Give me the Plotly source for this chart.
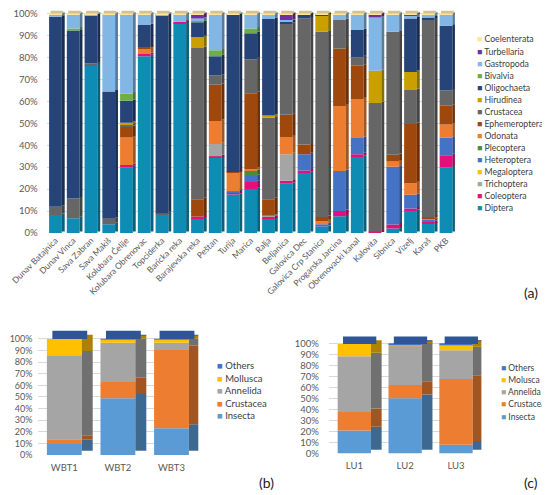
import plotly.graph_objects as go

# panel (a): relative abundance of taxa per station (%)
stations = ["Dunav Batajnica", "Dunav Vinca", "Sava Zabran", "Sava Makiš", "Kolubara Ćelije",
            "Kolubara Obrenovac", "Topciderka", "Baricka reka", "Barajevska reka", "Peštan",
            "Turija", "Marica", "Ralja", "Beljanica", "Galovica Dec", "Galovica Crp Stanica",
            "Progarska Jarcina", "Obrenovacki kanal", "Kalovita", "Sibnica", "Vizelj", "Karaš", "PKB"]

diptera = [8.2, 6.7, 76.5, 4.0, 30.0, 80.5, 8.2, 95.6, 6.7, 34.2, 17.5, 20.0, 6.4, 22.4, 27.3, 2.8, 7.6, 34.6, 0, 2.1, 10.0, 4.2, 29.9]
coleoptera = [0, 0, 0, 0, 1.0, 1.0, 0, 0.6, 0.8, 0.8, 1.0, 3.2, 0.9, 1.4, 1.2, 0, 2.4, 1.3, 0.7, 1.8, 1.2, 0.8, 5.5]
trichoptera = [0, 0, 0, 0, 0, 0, 0, 0, 0, 5.5, 0, 0, 0.7, 12.1, 0, 0, 0, 0, 0, 0, 0, 0, 0]
megaloptera = [0, 0, 0, 0, 0, 0, 0, 0, 0, 0, 0, 0, 0, 0, 0, 0, 0, 0, 0, 0, 0, 0, 0]
heteroptera = [0, 0, 0, 0, 0, 0, 0, 0, 0, 0, 0.5, 2.8, 0, 0, 7.4, 1.2, 18.3, 7.4, 0, 26.3, 6.2, 1.0, 8.0]
plecoptera = [0, 0, 0, 0, 0, 0, 0, 0, 0, 0, 0, 2.2, 0, 0, 0, 0, 0, 0, 0, 0, 0, 0, 0]
odonata = [0, 0, 0, 0, 12.5, 2.7, 0, 0, 0, 10.5, 8.4, 1.0, 0, 7.8, 0, 1.4, 29.5, 17.7, 0, 2.4, 5.3, 0.7, 6.0]
ephemeroptera = [0, 0, 0, 0, 4.8, 0.5, 0, 0, 7.9, 16.5, 0.4, 34.5, 7.4, 10.2, 4.4, 1.9, 26.3, 15.2, 0, 3.0, 27.0, 0.5, 8.6]
crustacea = [3.8, 9.0, 0.7, 2.5, 1.0, 0, 0.8, 0, 68.9, 4.2, 0, 15.5, 37.1, 41.3, 57.4, 84.4, 12.9, 3.9, 58.5, 56.1, 15.5, 89.8, 6.9]
hirudinea = [0, 0, 0, 0, 0.9, 0, 0, 0, 4.9, 0, 0, 0, 1.0, 0, 0, 7.5, 0, 0, 14.7, 0, 8.2, 0, 0]
oligochaeta = [86.5, 76.5, 22.0, 58.0, 10.0, 10.0, 90.2, 0, 6.8, 8.8, 71.7, 11.8, 44.0, 1.2, 2.0, 0.5, 0, 12.4, 0, 0, 24.3, 1.2, 29.5]
bivalvia = [0, 1.0, 0, 0, 3.4, 0, 0, 0, 1.0, 2.7, 0, 2.2, 0, 0, 0, 0, 0, 0, 0, 0, 0, 0, 0]
gastropoda = [1.2, 6.5, 0.5, 35.2, 36.1, 5.0, 0.5, 3.5, 0.7, 16.5, 0.2, 6.5, 2.2, 0.6, 0, 0, 2.7, 7.2, 24.3, 8.0, 1.6, 1.5, 5.3]
turbellaria = [0, 0, 0, 0, 0, 0, 0, 0, 2.0, 0, 0, 0, 0, 2.7, 0, 0, 0, 0, 1.5, 0, 0.4, 0, 0]
coelenterata = [0.3, 0.3, 0.3, 0.3, 0.3, 0.3, 0.3, 0.3, 0.3, 0.3, 0.3, 0.3, 0.3, 0.3, 0.3, 0.3, 0.3, 0.3, 0.3, 0.3, 0.3, 0.3, 0.3]

taxa_a = [
    ("Diptera", diptera, "#0f8cb4"),
    ("Coleoptera", coleoptera, "#e2117a"),
    ("Trichoptera", trichoptera, "#a5a5a5"),
    ("Megaloptera", megaloptera, "#ffc000"),
    ("Heteroptera", heteroptera, "#4472c4"),
    ("Plecoptera", plecoptera, "#4a8c3a"),
    ("Odonata", odonata, "#ed7d31"),
    ("Ephemeroptera", ephemeroptera, "#9e480e"),
    ("Crustacea", crustacea, "#666666"),
    ("Hirudinea", hirudinea, "#c9a000"),
    ("Oligochaeta", oligochaeta, "#264478"),
    ("Bivalvia", bivalvia, "#70ad47"),
    ("Gastropoda", gastropoda, "#82b6e4"),
    ("Turbellaria", turbellaria, "#7030a0"),
    ("Coelenterata", coelenterata, "#ffe699"),
]

# panel (b)
sites_b = ["WBT1", "WBT2", "WBT3"]
insecta_b = [9.5, 49.0, 23.0]
crustacea_b = [4.0, 14.0, 67.5]
annelida_b = [72.5, 33.8, 6.3]
mollusca_b = [14.0, 2.7, 2.7]
others_b = [0, 0.5, 0.5]

# panel (c)
sites_c = ["LU1", "LU2", "LU3"]
insecta_c = [21.0, 50.5, 8.0]
crustacea_c = [16.8, 12.0, 60.0]
annelida_c = [50.9, 35.7, 26.2]
molusca_c = [11.3, 1.3, 5.3]
others_c = [0, 0.5, 0.5]

c_ins, c_cru, c_ann, c_mol, c_oth = "#5b9bd5", "#ed7d31", "#a5a5a5", "#ffc000", "#4472c4"
taxa_b = [("Insecta", insecta_b, c_ins), ("Crustacea", crustacea_b, c_cru),
          ("Annelida", annelida_b, c_ann), ("Mollusca", mollusca_b, c_mol), ("Others", others_b, c_oth)]
taxa_c = [("Insecta", insecta_c, c_ins), ("Crustacea", crustacea_c, c_cru),
          ("Annelida", annelida_c, c_ann), ("Molusca", molusca_c, c_mol), ("Others", others_c, c_oth)]


def darker(hexcol, f=0.68):
    h = hexcol.lstrip("#")
    r, g, b = (int(h[i:i + 2], 16) for i in (0, 2, 4))
    return "rgb(%d,%d,%d)" % (r * f, g * f, b * f)


def add_3d_stack(fig, cats, series, xa, ya, w, side, skew, topcol):
    base = [0.0] * len(cats)
    for name, vals, col in series:
        # front face
        fig.add_trace(go.Bar(x=cats, y=vals, base=base, width=w, marker=dict(color=col, line_width=0),
                             name=name, xaxis=xa, yaxis=ya, hoverinfo="x+y+name"))
        # side face (pseudo 3D)
        fig.add_trace(go.Bar(x=cats, y=vals, base=[b + skew / 2 for b in base], width=side, offset=w / 2,
                             marker=dict(color=darker(col), line_width=0), xaxis=xa, yaxis=ya,
                             hoverinfo="skip"))
        base = [b + v for b, v in zip(base, vals)]
    # top face
    fig.add_trace(go.Bar(x=cats, y=[skew] * len(cats), base=base, width=w, offset=-w / 2 + side / 2,
                         marker=dict(color=topcol, line_width=0), xaxis=xa, yaxis=ya, hoverinfo="skip"))


fig = go.Figure()
add_3d_stack(fig, stations, taxa_a, "x", "y", 0.72, 0.16, 1.3, "#d6c18f")
add_3d_stack(fig, sites_b, taxa_b, "x2", "y2", 0.65, 0.205, 7.2, "#2f5597")
add_3d_stack(fig, sites_c, taxa_c, "x3", "y3", 0.655, 0.21, 6.7, "#2f5597")

W, H = 550, 495
OFF = 8  # page margin of the browser


def px(x):
    return (x - OFF) / W


def py(y):
    return 1 - (y - OFF) / H


pct = [0, 10, 20, 30, 40, 50, 60, 70, 80, 90, 100]
ytick = dict(tickvals=pct, ticktext=["%d%%" % p for p in pct], gridcolor="#d9d9d9", gridwidth=1,
             zeroline=False, showline=False, ticks="", automargin=False, ticklabeloverflow="allow")
xtick = dict(showgrid=False, showline=False, ticks="", zeroline=False, automargin=False)

fig.update_layout(
    width=W, height=H, margin=dict(l=0, r=0, t=0, b=0),
    paper_bgcolor="white", plot_bgcolor="white", barmode="overlay", showlegend=False,
    font=dict(family="Lato", color="#595959"),
    xaxis=dict(domain=[px(46.6), px(454.9)], range=[-0.5, 22.5], tickangle=-45,
               tickfont=dict(size=8.5, color="#595959"), anchor="y", **xtick),
    yaxis=dict(domain=[py(233), 1], range=[0, 102.5], anchor="x", ticklabelstandoff=8,
               tickfont=dict(size=9.5, color="#595959"), **ytick),
    xaxis2=dict(domain=[px(37.5), px(198.3)], range=[-0.5, 2.5], anchor="y2", ticklabelstandoff=5,
                tickfont=dict(size=9.5, color="#595959"), **xtick),
    yaxis2=dict(domain=[py(455), py(329.7)], range=[0, 108], anchor="x2", ticklabelstandoff=4,
                tickfont=dict(size=9, color="#595959"), **ytick),
    xaxis3=dict(domain=[px(328.9), px(481.4)], range=[-0.5, 2.5], anchor="y3", ticklabelstandoff=5,
                tickfont=dict(size=9.5, color="#595959"), **xtick),
    yaxis3=dict(domain=[py(453.5), py(335.2)], range=[0, 108], anchor="x3", ticklabelstandoff=9,
                tickfont=dict(size=9.5, color="#595959"), **ytick),
)

# legends drawn as text so the item spacing matches the original
ann = []


def legend(items, x0, y0, step, size):
    for i, (name, _, col) in enumerate(reversed(items)):
        ann.append(dict(x=px(x0), y=py(y0 + i * step), xref="paper", yref="paper",
                        xanchor="left", yanchor="middle", showarrow=False,
                        text='<span style="color:%s">■</span> %s' % (col, name),
                        font=dict(size=size, color="#404040")))


legend(taxa_a, 475, 39, 12.02, 8.7)
legend(taxa_b, 215, 365.7, 12.5, 9.5)
legend(taxa_c, 499, 367.7, 12.25, 8.5)

for lab, x, y in [("(a)", 531, 292), ("(b)", 266, 482), ("(c)", 531, 482)]:
    ann.append(dict(x=px(x), y=py(y), xref="paper", yref="paper", text=lab, showarrow=False,
                    font=dict(size=14, color="#222222"), xanchor="center", yanchor="middle"))

fig.update_layout(annotations=ann)
fig.write_html("out.html")
